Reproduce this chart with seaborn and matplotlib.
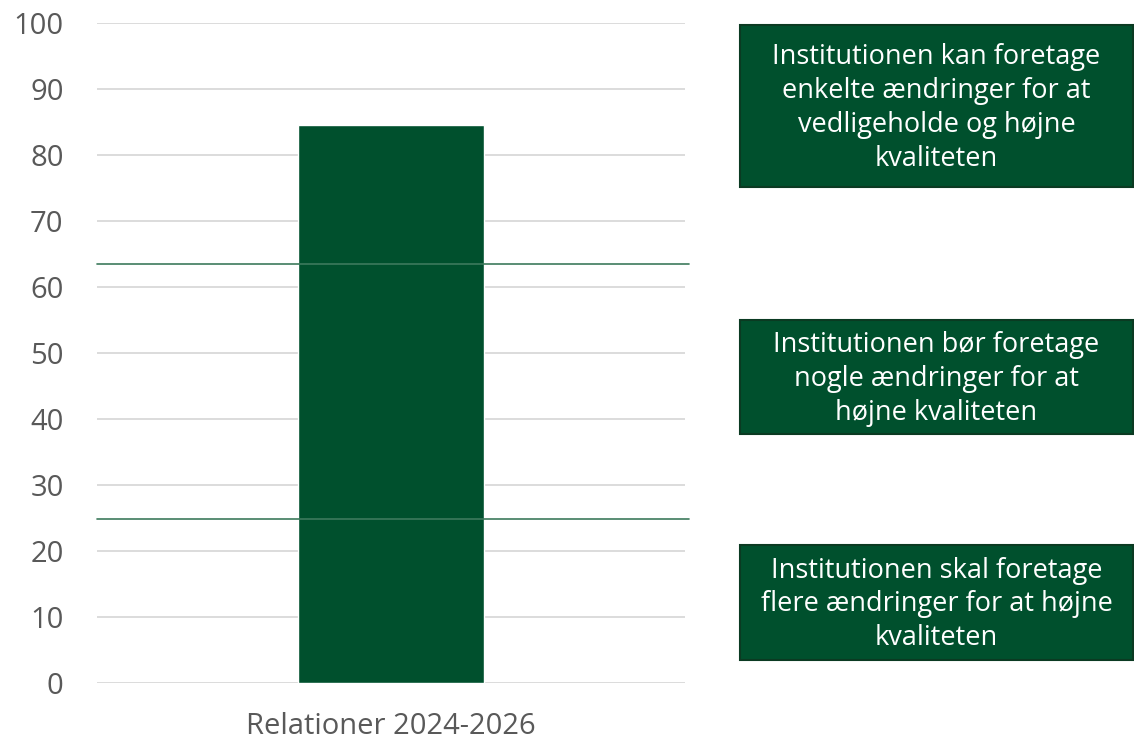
import matplotlib
matplotlib.use("Agg")
import matplotlib.pyplot as plt
import seaborn as sns
import pandas as pd
from matplotlib.patches import Rectangle

categories = ["Relationer 2024-2026"]
values = [84.5]
thresholds = [63.5, 24.8]
y_ticks = [0, 10, 20, 30, 40, 50, 60, 70, 80, 90, 100]
box_texts = [
    "Institutionen kan foretage\nenkelte ændringer for at\nvedligeholde og højne\nkvaliteten",
    "Institutionen bør foretage\nnogle ændringer for at\nhøjne kvaliteten",
    "Institutionen skal foretage\nflere ændringer for at højne\nkvaliteten",
]

sns.set_theme(style="white")
plt.rcParams["font.family"] = ["Open Sans", "DejaVu Sans"]

bar_color = "#00502d"
df = pd.DataFrame({"cat": categories, "val": values})

fig = plt.figure(figsize=(11.34, 7.44), dpi=100)
ax = fig.add_axes([0.0855, 0.082, 0.5185, 0.887])

for t in y_ticks:
    ax.axhline(t, color="#d9d9d9", lw=1.3, zorder=0)

sns.barplot(data=df, x="cat", y="val", color=bar_color, saturation=1,
            width=0.315, ax=ax, zorder=2)

for th in thresholds:
    ax.axhline(th, xmin=0, xmax=1.007, color="#3d7a5c", lw=1.2, zorder=3, clip_on=False)

ax.set_ylim(0, 100)
ax.set_xlim(-0.5, 0.5)
ax.set_yticks(y_ticks)
ax.set_yticklabels([str(t) for t in y_ticks])
ax.tick_params(axis="y", labelsize=21, labelcolor="#595959", length=0, pad=24)
ax.tick_params(axis="x", labelsize=21, labelcolor="#595959", length=0, pad=21)
ax.set_xlabel("")
ax.set_ylabel("")
for s in ax.spines.values():
    s.set_visible(False)

W, H = 1134, 744
boxes = [(740, 25, 393, 162), (740, 320, 393, 114), (740, 545, 393, 115)]
for (x, y, w, h), txt in zip(boxes, box_texts):
    fig.patches.append(Rectangle((x / W, 1 - (y + h) / H), w / W, h / H,
                                 transform=fig.transFigure, facecolor=bar_color,
                                 edgecolor="#0b3a22", lw=1.5))
    fig.text((x + w / 2) / W, 1 - (y + h / 2 + 2) / H, txt, ha="center", va="center",
             color="white", fontsize=19.5, linespacing=1.27)

fig.savefig("out.png", dpi=100)
